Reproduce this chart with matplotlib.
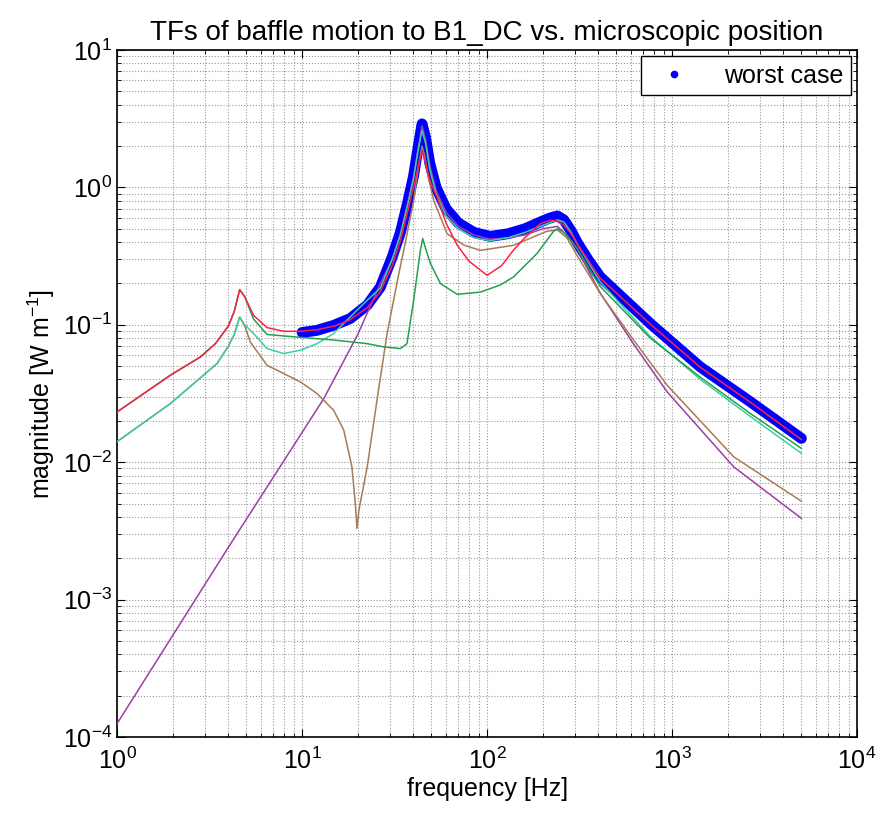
import matplotlib
matplotlib.use("Agg")
import matplotlib.pyplot as plt
from matplotlib.lines import Line2D

plt.rcParams['font.family'] = ['Liberation Sans', 'DejaVu Sans']
plt.rcParams['mathtext.fontset'] = 'custom'
plt.rcParams['mathtext.rm'] = 'Liberation Sans'
plt.rcParams['mathtext.it'] = 'Liberation Sans:italic'

# valeurs (frequence en Hz, amplitude en W/m)
f_red = [1, 1.94, 2.82, 3.4, 4.0, 4.3, 4.6, 4.9, 5.47, 6.47, 7.95, 9.8, 12, 15, 18, 22.5,
         26.5, 30.7, 34, 38, 41, 43, 44.5, 46, 48, 50, 53.7, 60, 68.9, 80, 100, 120, 139,
         160, 194, 220, 240, 260, 285, 306, 409, 763, 1422, 2650, 5000]
m_red = [0.0232, 0.0429, 0.0583, 0.0729, 0.098, 0.125, 0.18, 0.16, 0.117, 0.0954, 0.0897,
         0.0897, 0.092, 0.098, 0.108, 0.133, 0.175, 0.27, 0.41, 0.75, 1.15, 1.55, 1.81, 1.6,
         1.25, 1.05, 0.85, 0.55, 0.38, 0.29, 0.229, 0.27, 0.35, 0.43, 0.545, 0.575, 0.57,
         0.53, 0.46, 0.39, 0.218, 0.101, 0.049, 0.0273, 0.0146]

f_green = [1, 1.94, 2.82, 3.4, 4.0, 4.3, 4.6, 4.9, 5.47, 6.47, 9.8, 14.8, 22.5, 27.7, 34,
           36.9, 40.1, 43.6, 44.9, 46.5, 49.4, 56, 68.9, 92, 118, 139, 186, 229, 240, 260,
           306, 409, 763, 1422, 2650, 5000]
m_green = [0.0232, 0.0429, 0.0583, 0.0729, 0.098, 0.125, 0.18, 0.16, 0.11, 0.085, 0.081,
           0.0775, 0.0729, 0.069, 0.0671, 0.0729, 0.151, 0.348, 0.424, 0.36, 0.279, 0.1995,
           0.1667, 0.173, 0.195, 0.223, 0.33, 0.48, 0.5, 0.47, 0.36, 0.19, 0.08, 0.0415,
           0.0226, 0.0126]

f_teal = [1, 1.94, 3.47, 4.0, 4.3, 4.6, 4.9, 5.47, 6.47, 7.95, 9.8, 12.05, 14.8, 18.2, 22.5,
          26.5, 30.7, 34, 37, 40, 42.5, 44.5, 46.5, 49, 53, 60, 70, 85, 104, 130, 160, 200,
          240, 260, 285, 306, 409, 763, 1422, 2650, 5000]
m_teal = [0.0141, 0.0267, 0.0522, 0.07, 0.085, 0.114, 0.1, 0.0863, 0.0671, 0.0618, 0.0653,
          0.0729, 0.0863, 0.114, 0.151, 0.185, 0.30, 0.45, 0.72, 1.15, 1.9, 2.6, 2.1, 1.35,
          0.9, 0.62, 0.5, 0.43, 0.41, 0.43, 0.47, 0.53, 0.58, 0.56, 0.47, 0.39, 0.205, 0.082,
          0.040, 0.0215, 0.0116]

f_brown = [1, 1.94, 3.47, 4.0, 4.3, 4.6, 4.9, 5.25, 6.47, 7.95, 9.8, 12.05, 14.8, 16.8, 18.6,
           19.4, 19.8, 20.3, 22.5, 25.4, 28.8, 33, 36.2, 40.1, 42.5, 44.5, 46, 48, 51.5, 60.8,
           75, 92, 139, 211, 240, 270, 306, 409, 621, 940, 2153, 5000]
m_brown = [0.0141, 0.0267, 0.0522, 0.07, 0.085, 0.114, 0.098, 0.075, 0.0507, 0.0442, 0.0384,
           0.0316, 0.0239, 0.0171, 0.00925, 0.005, 0.0033, 0.0045, 0.00925, 0.0282, 0.086,
           0.22, 0.40, 0.8, 1.4, 2.0, 1.7, 1.2, 0.804, 0.46, 0.38, 0.348, 0.379, 0.48, 0.49,
           0.43, 0.32, 0.169, 0.0771, 0.0363, 0.01094, 0.0052]

f_purple = [1, 4.01, 13.1, 20, 26.5, 30.7, 34, 37, 40, 42.5, 44.5, 46.5, 49, 53, 60, 70, 85,
            104, 130, 160, 200, 240, 270, 306, 409, 621, 940, 2153, 5000]
m_purple = [0.000125, 0.00242, 0.029, 0.085, 0.2, 0.30, 0.46, 0.74, 1.18, 1.95, 2.8, 2.25,
            1.45, 0.95, 0.66, 0.52, 0.45, 0.42, 0.43, 0.45, 0.5, 0.52, 0.45, 0.36, 0.17,
            0.072, 0.0325, 0.00925, 0.0039]

# pire cas (enveloppe)
f_worst = [10, 12, 14.8, 18.2, 22.5, 26.5, 30.7, 34, 37, 40, 42.5, 44.5, 46.5, 49, 53, 60,
           70, 85, 104, 130, 160, 200, 220, 240, 260, 285, 306, 350, 409, 763, 1422, 2650,
           5000]
m_worst = [0.088, 0.091, 0.099, 0.111, 0.139, 0.188, 0.311, 0.47, 0.75, 1.2, 2.0, 2.9, 2.3,
           1.5, 1.0, 0.7, 0.55, 0.47, 0.44, 0.46, 0.5, 0.57, 0.6, 0.62, 0.58, 0.48, 0.40,
           0.30, 0.223, 0.102, 0.0493, 0.0275, 0.0149]

fig = plt.figure(figsize=(8.8, 8.13), dpi=100)
ax = fig.add_axes([0.133, 0.0935, 0.841, 0.845])

ax.plot(f_worst, m_worst, color='#0000ff', lw=7.8, solid_capstyle='round',
        solid_joinstyle='round', zorder=2)
ax.plot(f_purple, m_purple, color='#a03ca8', lw=1.1, zorder=3)
ax.plot(f_brown, m_brown, color='#a57c55', lw=1.1, zorder=3)
ax.plot(f_teal, m_teal, color='#3ccfa0', lw=1.1, zorder=3)
ax.plot(f_green, m_green, color='#22a050', lw=1.1, zorder=3)
ax.plot(f_red, m_red, color='#ff2048', lw=1.1, zorder=4)

ax.set_xscale('log')
ax.set_yscale('log')
ax.set_xlim(1, 1e4)
ax.set_ylim(1e-4, 10)

ax.grid(True, which='both', ls=':', color='0.6', lw=0.8)
ax.tick_params(which='both', direction='in', top=True, right=True, labelsize=18)
ax.tick_params(which='major', length=6)
ax.tick_params(which='minor', length=3)
ax.tick_params(axis='x', which='major', pad=8)
for s in ax.spines.values():
    s.set_linewidth(1.2)

ax.set_title('TFs of baffle motion to B1_DC vs. microscopic position', fontsize=20, pad=7)
ax.set_xlabel('frequency [Hz]', fontsize=18, labelpad=2)
ax.set_ylabel(r'magnitude [W m$^{-1}$]', fontsize=18, labelpad=4)

h = Line2D([], [], color='#0000ff', marker='.', ls='none', markersize=9)
ax.legend([h], ['worst case'], loc='upper right', fontsize=18, fancybox=False,
          edgecolor='black', framealpha=1, handletextpad=1.0, borderaxespad=0.25,
          borderpad=0.3)

fig.savefig('out.png', dpi=100)
